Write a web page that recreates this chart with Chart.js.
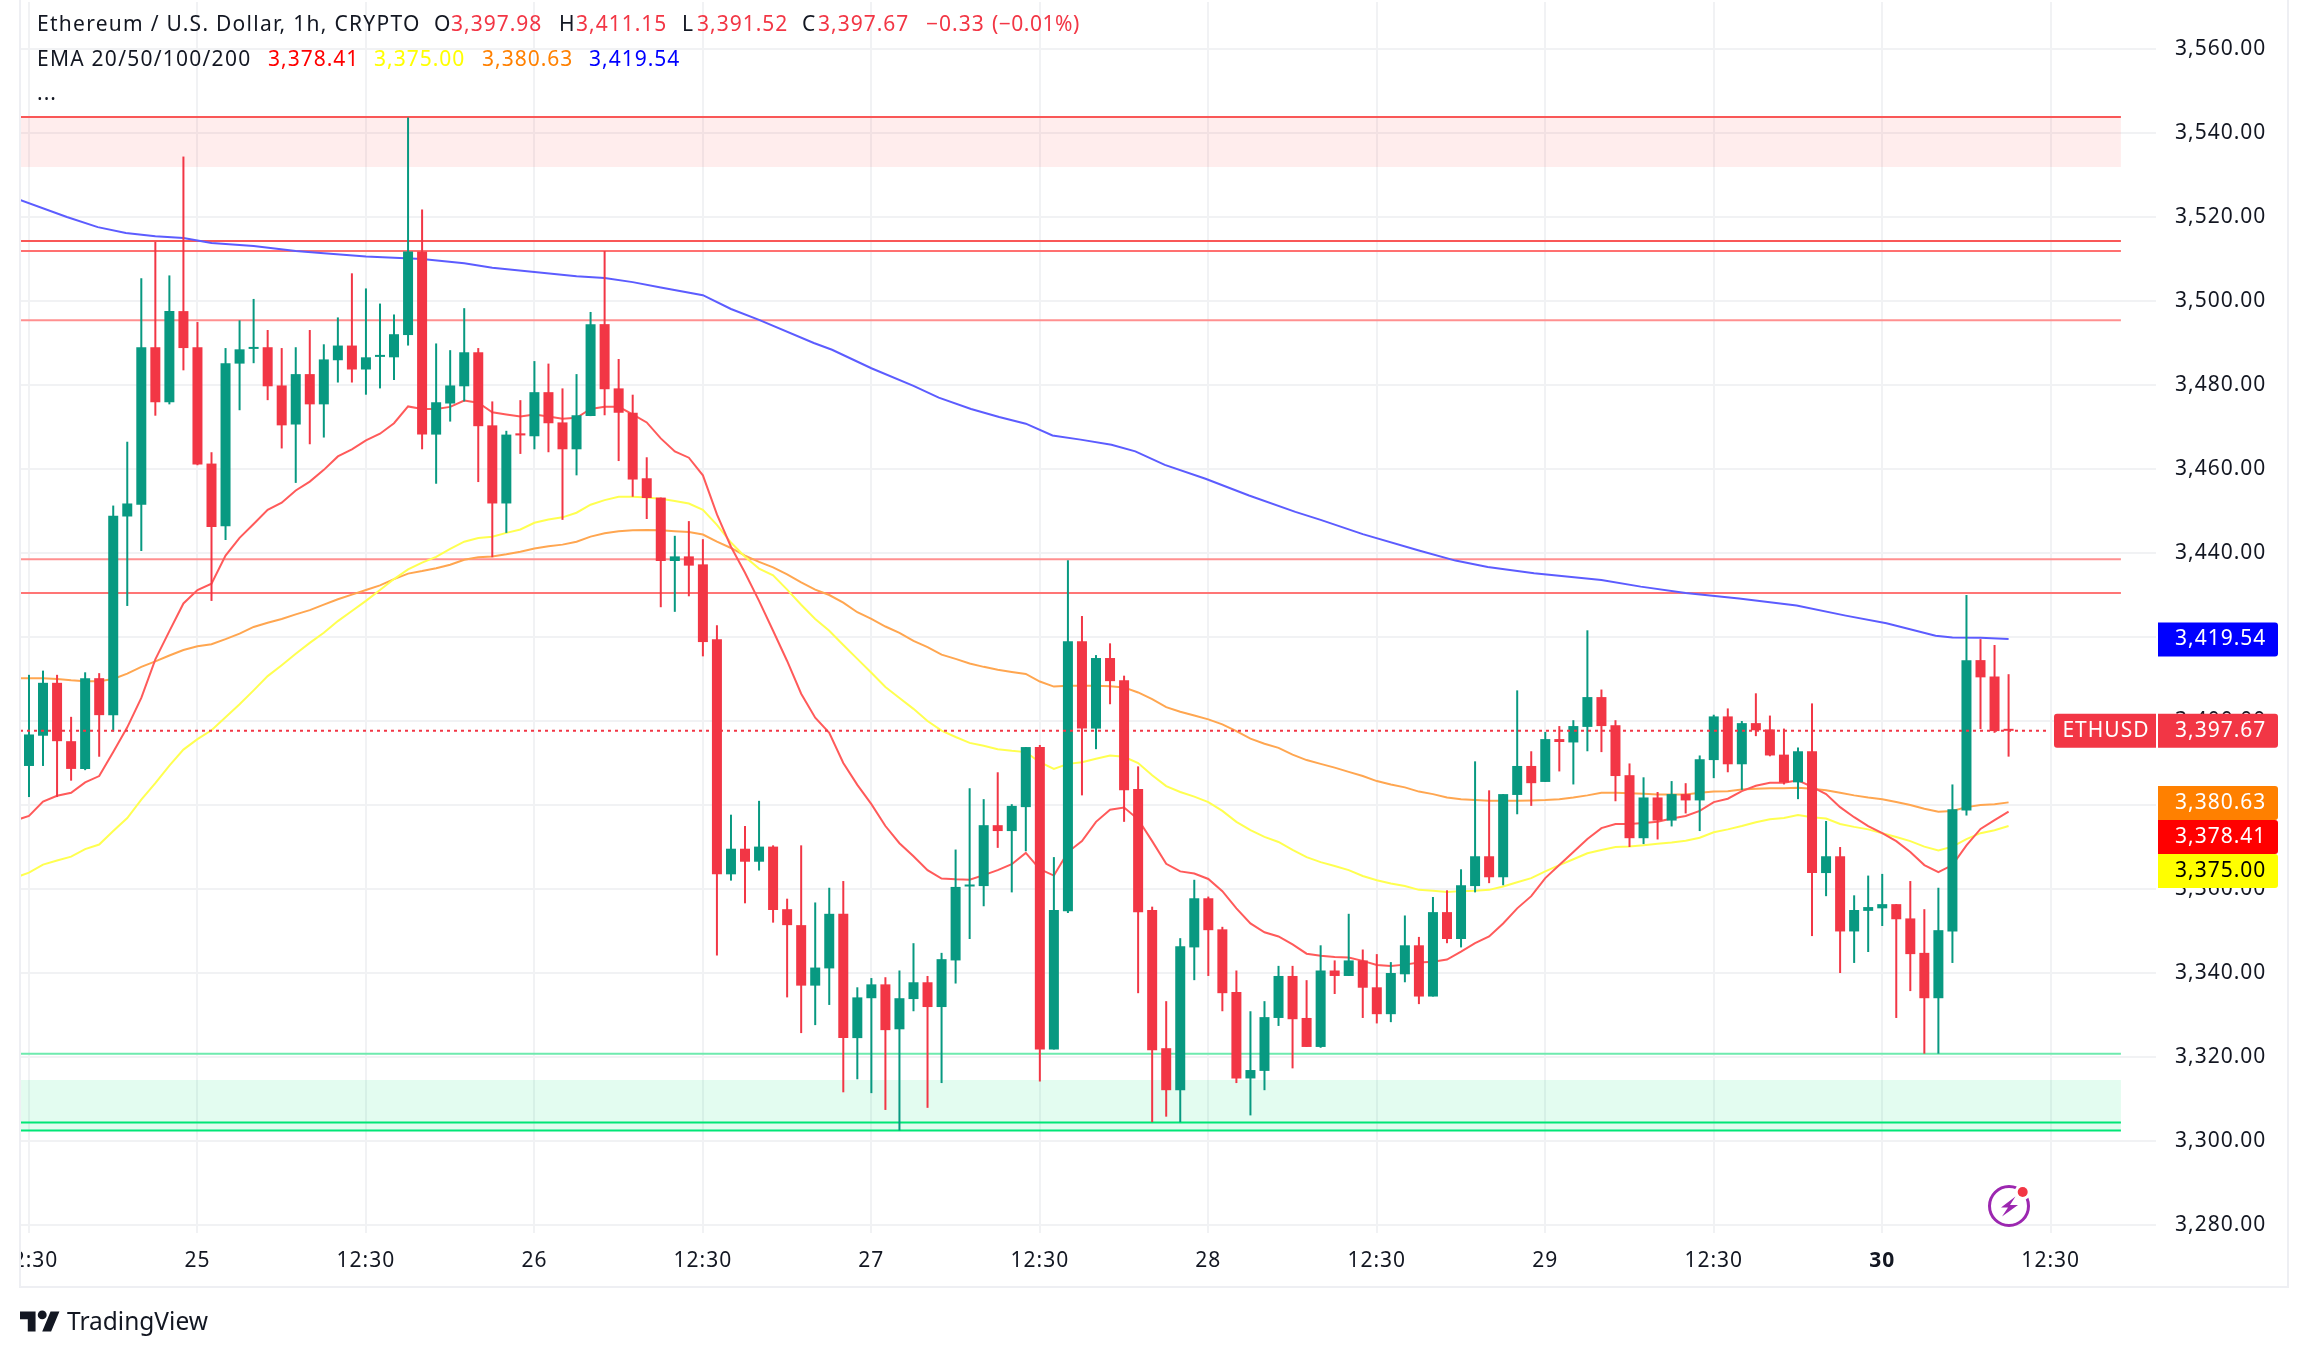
<!DOCTYPE html>
<html>
<head>
<meta charset="utf-8">
<title>ETHUSD 1h</title>
<script src="https://cdn.jsdelivr.net/npm/chart.js@4"></script>
<style>
  html, body { margin: 0; background: #fff; }
  body { width: 2308px; height: 1357px; overflow: hidden; position: relative; font-family: "Noto Sans", sans-serif; }
  canvas { position: absolute; left: 0; top: 0; }
  .txt { position: absolute; font-size: 21px; line-height: 28px; letter-spacing: 1px; white-space: nowrap; color: #131722; }
  .mask { position: absolute; left: 0; top: 0; width: 19px; height: 1357px; background: #fff; }
  .frame { position: absolute; left: 19px; top: -4px; width: 2266px; height: 1288px; border: 2px solid #eeeff3; box-sizing: content-box; }
  svg { position: absolute; }
</style>
</head>
<body>
<canvas id="chart" width="2308" height="1357"></canvas>
<div class="mask"></div>
<div class="frame"></div>
<svg style="left:20px;top:1307px" width="40" height="28" viewBox="0 0 36 25"><path fill="#131722" d="M14 22H7V11H0V4h14v18zM28 22h-8l7.5-18h8L28 22z"/><circle cx="20" cy="7" r="4" fill="#131722"/></svg>
<div class="txt" style="left:67px;top:1303px;font-size:24.5px;line-height:36px;letter-spacing:0;">TradingView</div>
<svg style="left:1985px;top:1182px" width="50" height="50" viewBox="0 0 50 50">
  <circle cx="24" cy="24" r="19.5" fill="none" stroke="#9c27b0" stroke-width="3"/>
  <circle cx="37.7" cy="10" r="8" fill="#fff"/>
  <circle cx="37.7" cy="10" r="5" fill="#f23645"/>
  <path fill="#9c27b0" d="M30.5 14.5 L16 25.5 L23 25.5 L17 34.5 L33 23 L25 23 Z"/>
</svg>
<script>
const xTicks = [0, 12, 24, 36, 48, 60, 72, 84, 96, 108, 120, 132, 144];
const xLabels = ['12:30', '25', '12:30', '26', '12:30', '27', '12:30', '28', '12:30', '29', '12:30', '30', '12:30'];
const yTicks = [3280, 3300, 3320, 3340, 3360, 3380, 3400, 3420, 3440, 3460, 3480, 3500, 3520, 3540, 3560];

const opens = [
  3389.3,3396.5,3409.1,3395.2,3388.6,3410.2,3401.4,3448.7,3451.5,3489,
  3475.9,3497.6,3489,3461.3,3446.4,3485.1,3488.6,3489,3479.9,3470.6,
  3482.6,3475.4,3485.9,3489.4,3483.7,3486.7,3486.6,3491.9,3511.8,3468.2,
  3475.6,3479.7,3487.8,3470.4,3451.8,3468.5,3467.8,3478.3,3471.1,3464.7,
  3472.6,3494.5,3479.2,3473.4,3457.8,3453.2,3438.1,3439.2,3437.3,3419.5,
  3363.5,3369.6,3366.5,3370.1,3355.2,3351.4,3337,3341.1,3354.1,3324.5,
  3334,3337.3,3326.6,3333.8,3337.8,3331.9,3343,3360.6,3360.7,3375.2,
  3373.8,3379.5,3393.8,3321.8,3354.7,3419,3398.2,3415,3409.7,3383.8,
  3355,3322.1,3312.1,3346.1,3357.8,3350.4,3335.5,3314.9,3316.7,3329.3,
  3339.3,3329.3,3322.4,3340.6,3339.3,3343,3336.6,3330.2,3339.7,3346.6,
  3334.4,3354.5,3348.1,3360.7,3367.8,3362.8,3382.4,3389.3,3385.5,3395.7,
  3394.9,3398.6,3405.7,3399,3387.1,3372.1,3381.8,3376.3,3382.6,3381.1,
  3390.7,3401.1,3389.7,3399.5,3398,3392,3385.4,3392.8,3363.8,3367.8,
  3349.9,3354.8,3355.4,3356.4,3353,3344.8,3334,3349.9,3378.7,3414.5,
  3410.6,3397.98
];
const closes = [
  3396.8,3409.1,3395.2,3388.6,3410.2,3401.4,3448.9,3451.8,3489,3475.9,
  3497.6,3488.8,3461.1,3446.2,3485.2,3488.5,3489,3479.7,3470.4,3482.6,
  3475.4,3486.1,3489.4,3483.7,3486.6,3487,3492.1,3511.8,3468.2,3475.9,
  3479.9,3487.8,3470.2,3451.8,3468.2,3468,3478.3,3470.9,3464.7,3472.8,
  3494.5,3479,3473.4,3457.5,3453.1,3438.1,3439.2,3437,3418.8,3363.5,
  3369.6,3366.5,3370.1,3355,3351.4,3337,3341.3,3354.1,3324.5,3334.2,
  3337.3,3326.4,3334,3337.8,3331.9,3343.3,3360.5,3360.9,3375.2,3373.8,
  3379.8,3393.8,3321.8,3355,3419,3398.2,3415,3409.5,3383.5,3354.5,
  3321.6,3312.1,3346.4,3357.8,3350.2,3335.2,3314.9,3316.9,3329.5,3339.3,
  3329,3322.4,3340.6,3339.3,3343,3336.5,3330.2,3340,3346.6,3334.4,
  3354.5,3348.1,3360.9,3367.8,3362.8,3382.6,3389.3,3385.2,3395.7,3395,
  3398.8,3405.7,3398.8,3386.9,3372.1,3381.8,3376.3,3382.6,3381.1,3390.9,
  3401.1,3389.7,3399.5,3397.8,3391.8,3385.4,3392.8,3363.8,3367.8,3349.9,
  3355,3355.7,3356.4,3352.8,3344.5,3334,3350.2,3379,3414.5,3410.4,
  3397.6,3397.67
];
const highs = [
  3411,3412,3411,3401,3411.6,3411.4,3451.3,3466.5,3505.4,3514.1,
  3506.1,3534.4,3495,3464,3488.8,3495.4,3500.5,3493.1,3488.8,3489,
  3493.1,3489.7,3496.1,3506.6,3503,3499.4,3496.8,3543.7,3521.8,3489.9,
  3488.3,3498.3,3488.8,3476.1,3469.1,3476.4,3485.7,3485.1,3479.2,3482.6,
  3497.4,3511.9,3486.2,3477.7,3462.8,3453.2,3444.1,3447.6,3443.3,3422.8,
  3377.7,3375,3381,3370.4,3357.7,3370.4,3356.8,3360.3,3361.9,3336.6,
  3338.8,3339,3340.6,3347.1,3339.3,3344.8,3369.4,3384,3381.4,3387.8,
  3380.2,3393.8,3394.3,3367.6,3438.3,3425,3415.7,3418.5,3410.8,3389.2,
  3355.8,3333.3,3348.3,3362.2,3358.2,3351,3340.6,3330.9,3333.3,3341.7,
  3341.7,3338.3,3346.6,3343,3354.1,3345.6,3344.5,3342.6,3353.7,3348.6,
  3358.1,3359.7,3364.7,3390.4,3383.5,3382.6,3407.3,3392.8,3397.4,3398.8,
  3400.2,3421.6,3407.5,3400.2,3389.9,3386.6,3383.1,3385.7,3385.2,3391.8,
  3401.5,3403,3400,3406.6,3401.3,3398.2,3393.7,3404.2,3376.2,3370,
  3358.5,3363.2,3363.6,3356.4,3361.9,3355.2,3360.3,3384.9,3430,3419.5,
  3418.1,3411.15
];
const lows = [
  3381.9,3389.3,3381.9,3385.8,3388.3,3391.5,3397.5,3427.4,3440.5,3472.7,
  3475.4,3483.5,3460.9,3428.6,3443.1,3474,3485.2,3476.4,3464.9,3456.7,
  3465.9,3467.5,3480.6,3480.6,3477.7,3479.2,3481.2,3489.4,3464.7,3456.5,
  3471.3,3476.1,3456.9,3439,3444.8,3463.6,3464.7,3464,3447.9,3458.5,
  3472.6,3472.8,3461.9,3453.4,3448.1,3427.1,3426,3429.7,3415.4,3344.2,
  3362,3356.6,3364.4,3352,3334.2,3325.7,3327.6,3332.4,3311.6,3314.7,
  3311.4,3307.4,3302.5,3330.9,3307.9,3313.8,3337.5,3348.1,3355.9,3369.8,
  3359.2,3369,3314.2,3321.8,3354.3,3382.3,3393.3,3404,3376,3335.2,
  3304.5,3305.8,3304.5,3338.3,3339.3,3330.9,3313.8,3306.1,3312.1,3327.4,
  3317.3,3322.4,3322.2,3335,3339.3,3329.3,3328,3328.3,3337.8,3332.6,
  3334.4,3347.1,3346.1,3359.2,3361.4,3360.9,3377.8,3379.8,3385.5,3388,
  3384.9,3392.8,3392.6,3380.9,3370,3370.7,3371.8,3374.9,3378,3373.8,
  3386.4,3387.8,3383.6,3396.4,3391.6,3384.9,3381.4,3348.8,3358.3,3340,
  3342.4,3345,3351.2,3329.3,3335.7,3320.8,3320.8,3342.4,3377.5,3398.1,
  3397.2,3391.52
];

// first value of each ema list sits one bar before the first candle
const ema20 = [
  3376.3,3377.4,3380.8,3382.2,3382.9,3385.4,3386.9,3392.6,3398.5,3405.5,3414.7,
  3421.4,3428,3431.2,3432.7,3439.4,3443.6,3446.9,3450.3,3452,3454.9,
  3457,3459.8,3463,3464.7,3466.8,3468.4,3470.9,3474.9,3474.3,3474.3,
  3474.8,3476.3,3475.8,3473.5,3473,3472.5,3473,3472.5,3472,3472.2,
  3474.3,3474.8,3474.8,3473,3471.1,3467.3,3464.2,3462.7,3458.5,3449.2,
  3441.5,3435.3,3428.6,3421.5,3414.3,3406.5,3400.8,3397.2,3390,3384.8,
  3380.2,3375,3370.9,3367.8,3364.5,3362.5,3362.3,3362.2,3363.3,3364.5,
  3365.9,3368.6,3364.7,3363.2,3368.8,3371.4,3376,3378.9,3379.4,3376.6,
  3371.4,3366,3364.2,3363.7,3362.4,3359.5,3355.4,3351.8,3349.7,3348.7,
  3346.8,3344.6,3344.1,3343.8,3343.7,3342.9,3341.9,3341.7,3342,3342.5,
  3342.7,3343.2,3345.1,3347.1,3348.7,3351.8,3355.4,3358.3,3362.6,3365.7,
  3368.8,3371.9,3374.5,3375.5,3375.5,3375.7,3376,3376.8,3377.4,3378.6,
  3380.7,3381.5,3383.3,3384.6,3385.3,3385.3,3385.9,3384.3,3382.6,3379.5,
  3377.1,3375,3373.3,3371.4,3368.8,3365.7,3364,3365.7,3370.4,3374.3,
  3376.4,3378.41
];
const ema50 = [
  3362.7,3363.9,3365.8,3366.8,3367.7,3369.5,3370.6,3373.8,3376.9,3381.3,3385.2,
  3389.4,3393.2,3395.7,3397.8,3400.9,3404,3407.3,3410.7,3413.3,3416,
  3418.6,3421,3423.8,3426.2,3428.6,3431.2,3433.8,3436.1,3437.7,3439.1,
  3441,3442.7,3443.6,3443.9,3444.8,3445.6,3447.2,3448,3448.5,3449.6,
  3451.5,3452.6,3453.4,3453.4,3453.2,3452.9,3452.4,3451.8,3450.3,3446.7,
  3442.5,3439.1,3436.3,3434.7,3431.3,3427.7,3424.3,3421.5,3418.1,3414.8,
  3411.5,3408.1,3405.5,3402.9,3400,3397.7,3396.2,3394.8,3394.1,3393.3,
  3392.9,3392.6,3390.2,3388.6,3389.8,3390.2,3391,3391.8,3391.5,3390,
  3387.1,3384.5,3383.1,3382,3380.7,3378.6,3376,3374,3372.4,3371.2,
  3369.3,3367.6,3366.4,3365.5,3364.5,3363.1,3362.1,3361.3,3360.7,3359.8,
  3359.6,3359.3,3359.5,3359.6,3359.8,3360.6,3361.6,3362.6,3364.2,3365.7,
  3367.1,3368.5,3369.3,3370,3370.1,3370.4,3370.8,3371.1,3371.5,3372.2,
  3373.5,3374.2,3375,3375.9,3376.6,3376.9,3377.6,3377.1,3376.8,3375.5,
  3374.8,3374.2,3373.3,3372.4,3371.4,3370.1,3369.2,3370.1,3371.9,3373.3,
  3374,3375
];
const ema100 = [
  3410.2,3410.2,3410.2,3410,3409.7,3409.5,3409.5,3410,3411.3,3412.9,3414.2,
  3415.6,3416.9,3417.8,3418.3,3419.5,3420.8,3422.4,3423.4,3424.3,3425.4,
  3426.4,3427.7,3429,3430.1,3431.2,3432.3,3433.8,3435.1,3435.7,3436.4,
  3437.2,3438.4,3439,3439.2,3439.7,3440.3,3441.1,3441.6,3442,3442.7,
  3443.9,3444.7,3445.2,3445.4,3445.5,3445.4,3445.2,3445,3444.4,3442.7,
  3441.2,3439.4,3437.9,3436.6,3434.9,3433,3431.3,3430,3428.2,3425.9,
  3424.3,3422.5,3421,3419.1,3417.6,3415.8,3414.8,3413.7,3412.9,3412.2,
  3411.7,3411.2,3409.4,3408.2,3408.4,3408.4,3408.4,3408.3,3408,3406.8,
  3405.2,3403.3,3402.2,3401.3,3400.4,3399.2,3397.6,3395.8,3394.6,3393.6,
  3392,3390.7,3389.8,3388.9,3387.9,3386.9,3385.7,3384.9,3384.2,3383.2,
  3382.6,3381.8,3381.4,3381.2,3381,3381,3381,3381.1,3381.2,3381.4,
  3381.8,3382.3,3382.9,3382.9,3382.8,3382.7,3382.5,3382.5,3382.5,3382.9,
  3383.2,3383.3,3383.7,3383.9,3384,3384,3384.1,3383.9,3383.5,3382.9,
  3382.3,3381.8,3381.4,3380.7,3380,3379.1,3378.4,3378.6,3379.5,3380,
  3380.2,3380.63
];
// ema200 read at its visible bends only, so it has its own bar positions
const ema200Bars = [-0.64,2.7,4.9,6.9,9,11,13,16,19,21,24,26,28,31,33,36,39,41,43,45,48,50,52,55.9,57.2,60,63,64.8,67.1,69.1,71,72.9,74.9,77.1,78.8,80.9,83.8,86.9,90.2,92,95,99,101.6,103.9,107.2,112,114.8,118,121.8,125.9,129.4,132.3,135.8,137,139,141];
const ema200 = [3524.1,3520,3517.6,3516.2,3515.4,3515,3513.8,3513.1,3511.9,3511.4,3510.6,3510.3,3510,3509,3507.9,3506.9,3505.9,3505.5,3504.5,3503.2,3501.4,3498.1,3495.5,3490,3488.4,3484,3479.8,3477,3474.3,3472.4,3470.8,3468,3467,3465.8,3464.2,3461,3457.7,3453.7,3449.8,3447.9,3444.5,3440.6,3438.2,3436.7,3435.2,3433.6,3432,3430.5,3429.2,3427.5,3425.1,3423.3,3420.3,3419.9,3419.8,3419.54];

const resistanceLevels = [3543.8, 3514.3, 3511.9, 3495.4, 3438.5, 3430.5];
const resistanceColours = ['#f95757', '#f95757', '#ff7070', '#ff9090', '#ff9090', '#ff7575'];
const supportLevels = [3320.8, 3304.4, 3302.5];
const supportColours = ['#6eeaae', '#00e676', '#00e676'];
const redZone = [3543.8, 3531.9];
const greenZone = [3314.5, 3302.4];
const lastPrice = 3397.67;

const firstBar = -0.64;
const lastBar = 151.5;
const levelEnd = 149;
const priceLineEnd = 143.9;

const upColour = '#089981';
const downColour = '#f23645';
const fontFamily = '"Noto Sans", sans-serif';
const candleColours = opens.map((o, i) => closes[i] >= o ? upColour : downColour);

function fmt(v) {
    return v.toLocaleString('en-US', { minimumFractionDigits: 2, maximumFractionDigits: 2 });
}

function text(value, left, top, colour, spacing) {
    const el = document.createElement('div');
    el.className = 'txt';
    el.textContent = value;
    el.style.left = left + 'px';
    el.style.top = top + 'px';
    el.style.color = colour;
    if (spacing !== undefined) el.style.letterSpacing = spacing + 'px';
    document.body.appendChild(el);
}

text('Ethereum / U.S. Dollar, 1h, CRYPTO', 37, 9, '#131722', 1.27);
text('O', 434, 9, '#131722');
text('3,397.98', 451, 9, downColour);
text('H', 559, 9, '#131722');
text('3,411.15', 576, 9, downColour);
text('L', 682, 9, '#131722');
text('3,391.52', 697, 9, downColour);
text('C', 802, 9, '#131722');
text('3,397.67', 818, 9, downColour);
text('\u22120.33', 926, 9, downColour);
text('(\u22120.01%)', 992, 9, downColour, 0.5);
text('EMA 20/50/100/200', 37, 44, '#131722', 1.25);
text('3,378.41', 268, 44, '#ff0000');
text('3,375.00', 374, 44, '#ffff00');
text('3,380.63', 482, 44, '#ff8000');
text('3,419.54', 589, 44, '#0000ff');
text('...', 37, 78, '#131722');

function lineSet(points, colour, width, order, extra) {
    return Object.assign({
        type: 'line',
        data: points,
        borderColor: colour,
        borderWidth: width,
        pointRadius: 0,
        tension: 0,
        fill: false,
        order: order
    }, extra || {});
}

function levelSet(level, colour) {
    return lineSet([{ x: firstBar, y: level }, { x: levelEnd, y: level }], colour, 2, 8);
}

function zoneSet(zone, colour) {
    return lineSet([{ x: firstBar, y: zone[0] }, { x: levelEnd, y: zone[0] }], 'rgba(0,0,0,0)', 0, 9, {
        fill: { value: zone[1] },
        backgroundColor: colour
    });
}

function emaPoints(values) {
    return values.map((v, i) => ({ x: i - 1, y: v }));
}

// price tags on the axis, stacked like the originals so they do not overlap
const badgePlugin = {
    id: 'badges',
    beforeLayout(chart) {
        chart.ctx.letterSpacing = '1px';
    },
    beforeDraw(chart) {
        chart.ctx.letterSpacing = '1px';
    },
    afterDraw(chart) {
        const ctx = chart.ctx;
        const y = chart.scales.y;
        const tagH = 34;
        const tag = (left, right, centre, bg, fg, label, textX, align, radii) => {
            ctx.save();
            ctx.fillStyle = bg;
            ctx.beginPath();
            ctx.roundRect(left, centre - tagH / 2, right - left, tagH, radii);
            ctx.fill();
            ctx.fillStyle = fg;
            ctx.font = '21px ' + fontFamily;
            ctx.textAlign = align;
            ctx.textBaseline = 'middle';
            ctx.fillText(label, textX, centre);
            ctx.restore();
        };
        const orangeY = y.getPixelForValue(ema100[ema100.length - 1]) + 0.5;
        tag(2158, 2278, y.getPixelForValue(ema200[ema200.length - 1]) + 0.5, '#0000ff', '#fff', fmt(ema200[ema200.length - 1]), 2175, 'left', [0, 3, 3, 0]);
        tag(2054, 2156, y.getPixelForValue(lastPrice), downColour, '#fff', 'ETHUSD', 2106, 'center', [3, 0, 0, 3]);
        tag(2158, 2278, y.getPixelForValue(lastPrice), downColour, '#fff', fmt(lastPrice), 2175, 'left', [0, 3, 3, 0]);
        tag(2158, 2278, orangeY, '#ff8000', '#fff', fmt(ema100[ema100.length - 1]), 2175, 'left', [0, 3, 3, 0]);
        tag(2158, 2278, orangeY + tagH, '#ff0000', '#fff', fmt(ema20[ema20.length - 1]), 2175, 'left', [0, 3, 3, 0]);
        tag(2158, 2278, orangeY + tagH * 2, '#ffff00', '#000', fmt(ema50[ema50.length - 1]), 2175, 'left', [0, 3, 3, 0]);
    }
};

const datasets = [
    zoneSet(redZone, 'rgba(255,82,82,0.1)'),
    zoneSet(greenZone, 'rgba(0,230,118,0.11)')
];
resistanceLevels.forEach((l, i) => datasets.push(levelSet(l, resistanceColours[i])));
supportLevels.forEach((l, i) => datasets.push(levelSet(l, supportColours[i])));
datasets.push(lineSet(emaPoints(ema100), '#ffa650', 2, 6));
datasets.push(lineSet(emaPoints(ema50), '#ffff50', 2, 5));
datasets.push(lineSet(emaPoints(ema20), '#ff5a5a', 2, 4));
datasets.push(lineSet(ema200.map((v, i) => ({ x: ema200Bars[i], y: v })), '#5c5cff', 2, 3));
datasets.push({
    type: 'bar',
    data: highs.map((h, i) => ({ x: i, y: [lows[i], h] })),
    backgroundColor: candleColours,
    grouped: false,
    maxBarThickness: 2,
    borderWidth: 0,
    order: 2
});
datasets.push({
    type: 'bar',
    data: opens.map((o, i) => ({ x: i, y: [o, closes[i]] })),
    backgroundColor: candleColours,
    grouped: false,
    maxBarThickness: 10,
    minBarLength: 2,
    borderWidth: 0,
    order: 1
});
datasets.push(lineSet([{ x: firstBar, y: lastPrice }, { x: priceLineEnd, y: lastPrice }], downColour, 2, 0, { borderDash: [3, 4] }));

new Chart(document.getElementById('chart'), {
    type: 'bar',
    data: { datasets: datasets },
    plugins: [badgePlugin],
    options: {
        responsive: false,
        animation: false,
        devicePixelRatio: 1,
        layout: { padding: { left: 20, right: 20, top: 2, bottom: 68 } },
        plugins: { legend: { display: false }, tooltip: { enabled: false } },
        scales: {
            x: {
                type: 'linear',
                min: firstBar,
                max: lastBar,
                offset: false,
                grid: { color: '#f1f2f4', lineWidth: 2, drawTicks: false, offset: false },
                border: { display: false },
                afterBuildTicks: s => { s.ticks = xTicks.map(v => ({ value: v })); },
                afterFit: s => { s.height = 56; s.paddingLeft = 0; s.paddingRight = 0; },
                ticks: {
                    autoSkip: false,
                    maxRotation: 0,
                    padding: 15,
                    color: '#131722',
                    font: ctx => ({
                        family: fontFamily,
                        size: 21,
                        weight: ctx.tick && ctx.tick.value === 132 ? 'bold' : 'normal'
                    }),
                    callback: v => xLabels[xTicks.indexOf(v)]
                }
            },
            y: {
                position: 'right',
                min: 3278.1,
                max: 3571.2,
                grid: { color: '#f1f2f4', lineWidth: 2, drawTicks: false },
                border: { display: false },
                afterBuildTicks: s => { s.ticks = yTicks.map(v => ({ value: v })); },
                afterFit: s => { s.width = 132; s.paddingTop = 0; s.paddingBottom = 0; },
                ticks: {
                    autoSkip: false,
                    padding: 19,
                    color: '#131722',
                    font: { family: fontFamily, size: 21 },
                    callback: v => fmt(v)
                }
            }
        }
    }
});
</script>
</body>
</html>
